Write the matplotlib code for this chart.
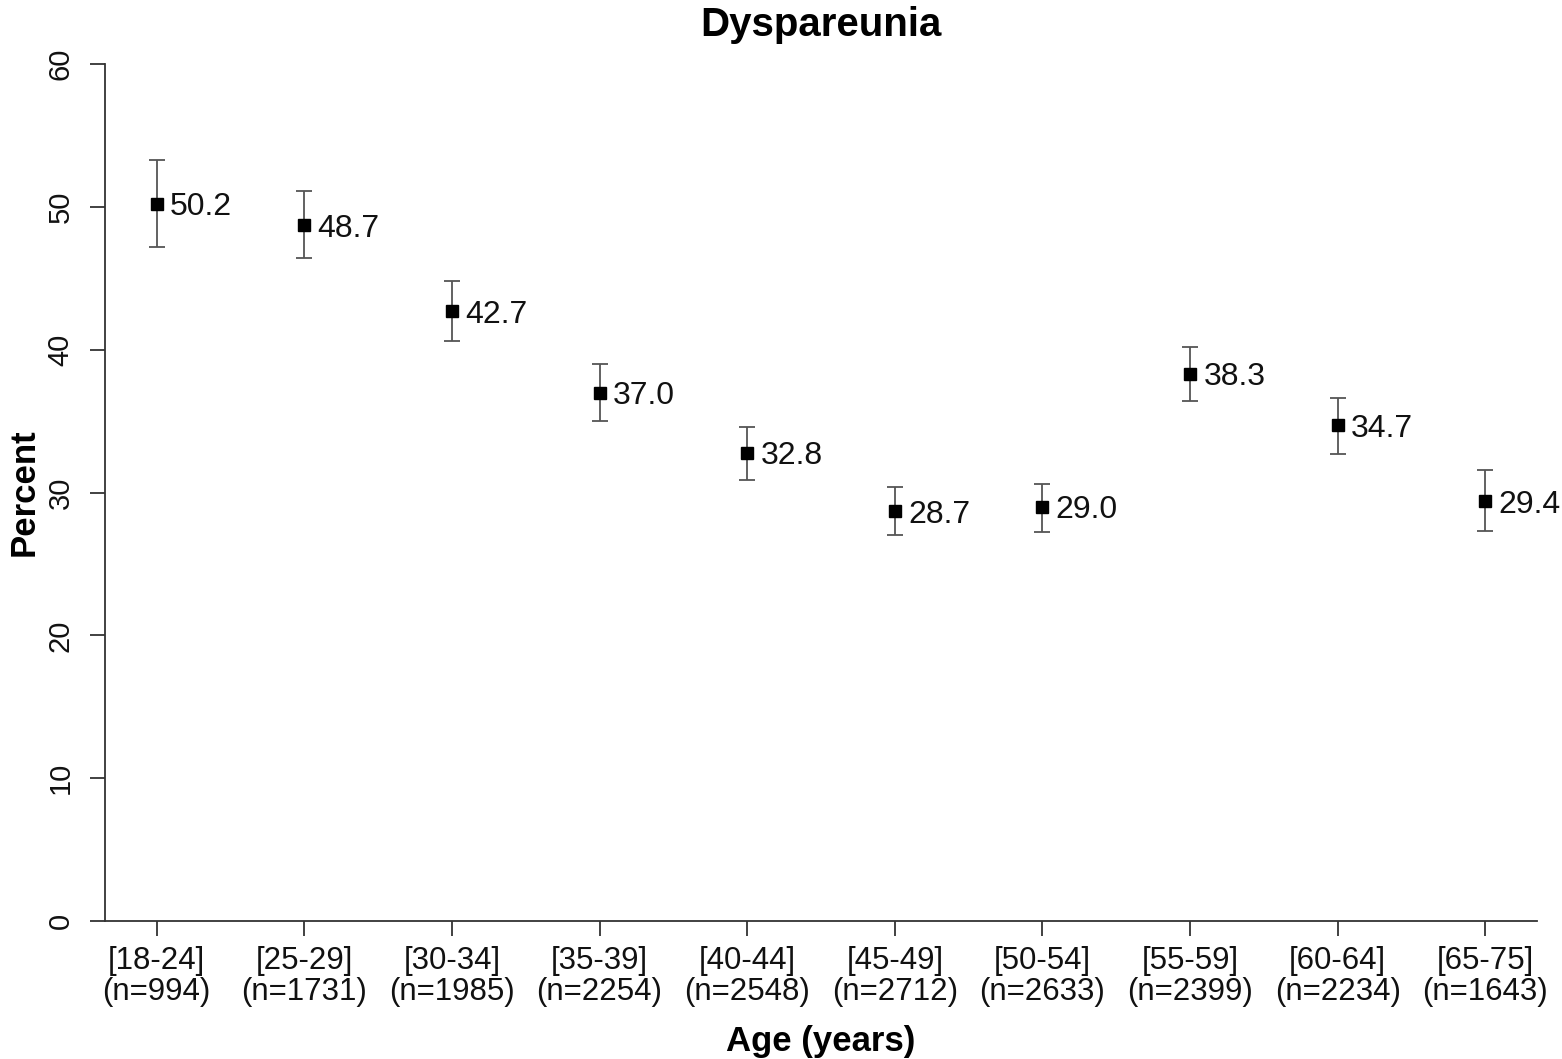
import matplotlib
matplotlib.use("Agg")
import matplotlib.pyplot as plt

# age groups, sample sizes, estimates and 95% CI
age_groups = ["[18-24]", "[25-29]", "[30-34]", "[35-39]", "[40-44]",
              "[45-49]", "[50-54]", "[55-59]", "[60-64]", "[65-75]"]
n_sizes = [994, 1731, 1985, 2254, 2548, 2712, 2633, 2399, 2234, 1643]
percent = [50.2, 48.7, 42.7, 37.0, 32.8, 28.7, 29.0, 38.3, 34.7, 29.4]
ci_low = [47.2, 46.4, 40.6, 35.0, 30.9, 27.0, 27.2, 36.4, 32.7, 27.3]
ci_high = [53.3, 51.1, 44.8, 39.0, 34.6, 30.4, 30.6, 40.2, 36.6, 31.6]

plt.rcParams['font.family'] = ['Liberation Sans', 'DejaVu Sans']

fig = plt.figure(figsize=(15.62, 10.59), dpi=100)
ax = fig.add_axes([105 / 1562, 1 - 921 / 1059, (1537 - 105) / 1562, (921 - 64) / 1059])

x = list(range(1, len(percent) + 1))
yerr = [[p - l for p, l in zip(percent, ci_low)],
        [h - p for p, h in zip(percent, ci_high)]]
ax.errorbar(x, percent, yerr=yerr, fmt="none", ecolor="#555555",
            elinewidth=1.3, capsize=6, capthick=1.3, zorder=2)
ax.plot(x, percent, "s", color="black", markersize=8.5, zorder=3)
for xi, p in zip(x, percent):
    ax.text(xi + 0.09, p, f"{p:.1f}", fontsize=23, color="#111111",
            va="center_baseline", ha="left")

ax.set_xlim(0.65, 10.35)
ax.set_ylim(0, 60)
ax.set_yticks(range(0, 61, 10))
ax.set_xticks(x)
ax.set_xticklabels([f"{a}\n(n={n})" for a, n in zip(age_groups, n_sizes)],
                   fontsize=22.5, linespacing=1.05, color="#111111")
for lab in ax.get_yticklabels():
    lab.set_rotation(90)
    lab.set_va("center")
    lab.set_fontsize(21)
    lab.set_color("#111111")
ax.tick_params(axis="both", length=11, width=1.3, color="#333333")
ax.tick_params(axis="y", pad=11)
ax.tick_params(axis="x", pad=7)

for s in ["top", "right"]:
    ax.spines[s].set_visible(False)
for s in ["left", "bottom"]:
    ax.spines[s].set_linewidth(1.3)
    ax.spines[s].set_color("#333333")

ax.set_title("Dyspareunia", fontsize=29, fontweight="bold", pad=20)
ax.set_ylabel("Percent", fontsize=25, fontweight="bold", labelpad=4)
ax.set_xlabel("Age (years)", fontsize=25, fontweight="bold", labelpad=13)

fig.savefig("out.png", dpi=100)
